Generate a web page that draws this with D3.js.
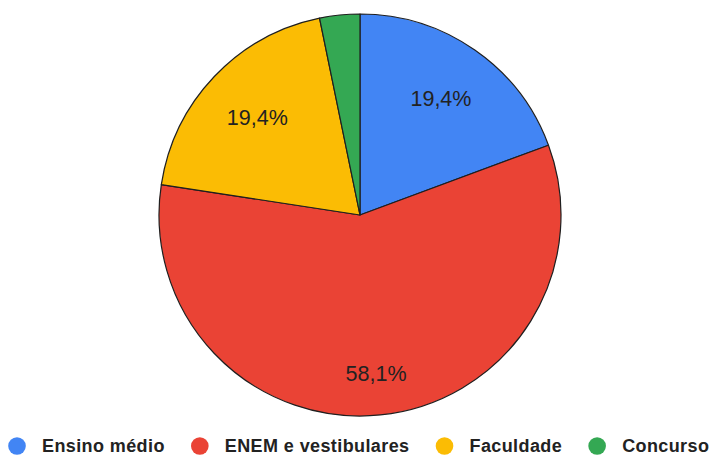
<!DOCTYPE html>
<html>
<head>
<meta charset="utf-8">
<script src="https://cdn.jsdelivr.net/npm/d3@7"></script>
<style>
  html, body { margin: 0; padding: 0; background: #fff; }
  svg { display: block; font-family: Arial, "Liberation Sans", sans-serif; }
</style>
</head>
<body>
<svg id="chart" width="713" height="455"></svg>
<script>
// Respostas por categoria
const categories = ["Ensino médio", "ENEM e vestibulares", "Faculdade", "Concurso"];
const counts = [6, 18, 6, 1];
const colors = ["#4285f4", "#ea4335", "#fbbc04", "#34a853"];

const width = 713, height = 455;
const cx = 360, cy = 215, R = 201;

const svg = d3.select("#chart");
const total = d3.sum(counts);
const data = categories.map((c, i) => ({ name: c, value: counts[i], color: colors[i] }));

const pie = d3.pie().sort(null).value(d => d.value);
const arcs = pie(data);
const arc = d3.arc().innerRadius(0).outerRadius(R);

const g = svg.append("g").attr("transform", `translate(${cx},${cy})`);

g.selectAll("path.slice")
  .data(arcs)
  .join("path")
  .attr("class", "slice")
  .attr("d", arc)
  .attr("fill", d => d.data.color)
  .attr("stroke", "#1f1f1f")
  .attr("stroke-width", 1.2)
  .attr("stroke-linejoin", "round");

// Rótulos de porcentagem (fatias muito pequenas ficam sem rótulo)
const fmt = v => (v * 100).toFixed(1).replace(".", ",") + "%";
g.selectAll("text.pct")
  .data(arcs.filter(d => d.data.value / total > 0.05))
  .join("text")
  .attr("class", "pct")
  .attr("transform", d => {
    const span = d.endAngle - d.startAngle;
    const r = span > Math.PI ? 0.79 * R : 0.705 * R;
    const a = (d.startAngle + d.endAngle) / 2;
    return `translate(${r * Math.sin(a)},${-r * Math.cos(a)})`;
  })
  .attr("text-anchor", "middle")
  .attr("dy", "0.36em")
  .attr("font-size", 21.5)
  .attr("fill", "#222")
  .text(d => fmt(d.data.value / total));

// Legenda
const legend = svg.append("g").attr("transform", "translate(0,446)");
let x = 17;
data.forEach(d => {
  const item = legend.append("g").attr("transform", `translate(${x},0)`);
  item.append("circle").attr("r", 8.8).attr("fill", d.color);
  const t = item.append("text")
    .attr("x", 25)
    .attr("dy", "0.36em")
    .attr("font-size", 18)
    .attr("letter-spacing", 0.4)
    .attr("font-weight", "bold")
    .attr("fill", "#222")
    .text(d.name);
  x += 25 + t.node().getComputedTextLength() + 35;
});
</script>
</body>
</html>
